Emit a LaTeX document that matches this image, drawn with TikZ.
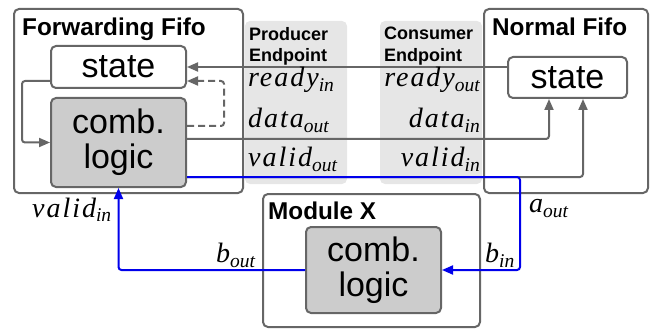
\documentclass[tikz,border=0pt]{standalone}
\usepackage{fontspec}
\setmainfont{Liberation Sans}
\newfontfamily\sigfont{Liberation Serif}[LetterSpace=7]
\newfontfamily\subfont{Liberation Serif}
\usetikzlibrary{arrows.meta, calc, positioning}

\definecolor{boxgray}{RGB}{102,102,102}
\definecolor{logicfill}{RGB}{204,204,204}
\definecolor{panelfill}{RGB}{230,230,230}
\definecolor{sigblue}{RGB}{0,0,235}

% Signalname mit Index
\newcommand{\signame}[2]{{\sigfont\itshape #1}\raisebox{-5pt}{\fontsize{19.5}{19.5}\selectfont\subfont\itshape #2}}

\tikzset{
  fifobox/.style={draw=boxgray, line width=2pt, rounded corners=5pt, inner sep=0pt},
  statebox/.style={fifobox, fill=white, font=\fontsize{34}{34}\selectfont},
  logicbox/.style={fifobox, fill=logicfill, align=center, font=\fontsize{34}{35}\selectfont},
  panel/.style={fill=panelfill, rounded corners=5pt, inner sep=0pt},
  title/.style={anchor=base west, inner sep=0pt, font=\fontsize{24.3}{25}\selectfont\bfseries},
  ptitle/.style={anchor=north west, inner sep=0pt, align=left, font=\fontsize{18}{21.5}\selectfont\bfseries},
  sig/.style={inner sep=0pt, font=\fontsize{28}{28}\selectfont},
  wire/.style={draw=boxgray, line width=2pt, rounded corners=3pt},
  bluewire/.style={draw=sigblue, line width=2pt, rounded corners=3pt},
}

\begin{document}
\begin{tikzpicture}[x=1pt, y=-1pt, >={Triangle[length=11pt,width=9pt]}]
    \useasboundingbox (0,0) rectangle (657,329);

    % Endpoint-Streifen
    \node[panel, minimum width=102pt, minimum height=163pt] (prod) at (296,102.5) {};
    \node[panel, minimum width=102pt, minimum height=163pt] (cons) at (431,102.5) {};
    \node[ptitle] (prodtitle) at (249,27) {Producer\\Endpoint};
    \node[ptitle] (constitle) at (384,27) {Consumer\\Endpoint};

    % Forwarding Fifo
    \node[fifobox, minimum width=229pt, minimum height=184pt] (ffifo) at (128.5,101) {};
    \node[title] (ftitle) at (22,36) {Forwarding Fifo};
    \node[statebox, minimum width=135pt, minimum height=42pt] (fstate) at (118.5,67) {state};
    \node[logicbox, minimum width=135pt, minimum height=89pt] (flogic) at (118.5,142.5) {comb.\\logic};

    % Normal Fifo
    \node[fifobox, minimum width=164pt, minimum height=184pt] (nfifo) at (566,101) {};
    \node[title] (ntitle) at (492,36) {Normal Fifo};
    \node[statebox, minimum width=119pt, minimum height=41pt] (nstate) at (567.5,77.5) {state};

    % Module X
    \node[fifobox, minimum width=217pt, minimum height=133pt] (modx) at (371.5,260.5) {};
    \node[title] (mtitle) at (268,219) {Module X};
    \node[logicbox, minimum width=135pt, minimum height=86pt] (mlogic) at (373.5,270) {comb.\\logic};

    % Verbindungen zwischen den Fifos
    \draw[wire,->] (nstate.west |- fstate.east) -- (fstate.east);
    \draw[wire,->] ([yshift=8pt]fstate.south west) -- ++(-28,0) |- (flogic.west);
    \draw[wire,dash pattern=on 7pt off 4pt,->] ([yshift=-29pt]flogic.north east) -- ++(37,0) |- ([yshift=8pt]fstate.south east);
    \draw[wire,->] ([yshift=-42pt]flogic.north east) -| ([xshift=-18.5pt]nstate.south);
    \draw[wire,->] ([yshift=11pt]flogic.south east) -| ([xshift=15.5pt]nstate.south);

    % Pfad durch Module X
    \coordinate (aturn) at (520,270);
    \draw[bluewire,->] ([yshift=11pt]flogic.south east) -| (aturn) -- (mlogic.east);
    \draw[bluewire,->] (mlogic.west) -| (flogic.south);

    % Signalnamen
    \node[sig, anchor=base west] (rin) at (248,87) {\signame{ready}{in}};
    \node[sig, anchor=base west] (dout) at (248,128) {\signame{data}{out}};
    \node[sig, anchor=base west] (vout) at (248,167) {\signame{valid}{out}};
    \node[sig, anchor=base east] (rout) at (480,87) {\signame{ready}{out}};
    \node[sig, anchor=base east] (din) at (480,128) {\signame{data}{in}};
    \node[sig, anchor=base east] (vin) at (480,167) {\signame{valid}{in}};
    \node[sig, anchor=base west] (fvin) at (32,217) {\signame{valid}{in}};
    \node[sig, anchor=base west] (bout) at (216,262) {\signame{b}{out}};
    \node[sig, anchor=base west] (bin) at (485,262) {\signame{b}{in}};
    \node[sig, anchor=base west] (aout) at (529,212) {\signame{a}{out}};
\end{tikzpicture}
\end{document}
